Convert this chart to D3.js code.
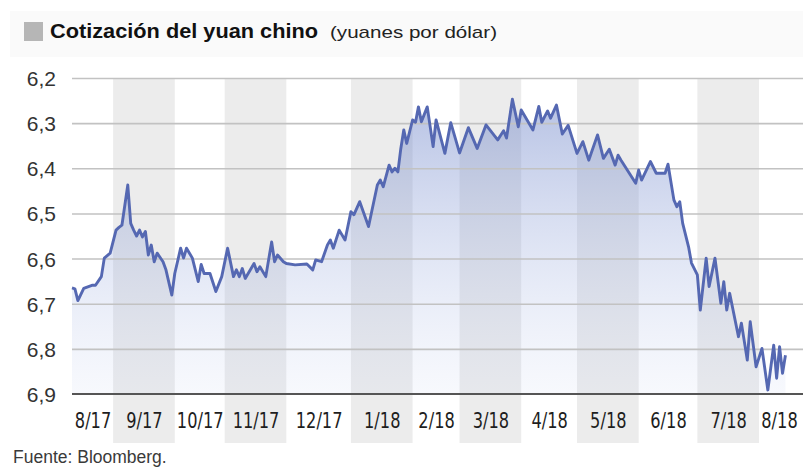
<!DOCTYPE html>
<html>
<head>
<meta charset="utf-8">
<script src="https://cdn.jsdelivr.net/npm/d3@7/dist/d3.min.js"></script>
<style>
  body { margin: 0; background: #fff; }
  svg { display: block; }
</style>
</head>
<body>
<svg id="chart" width="803" height="468"></svg>
<script>
// Month labels and the number of trading days each month spans on the axis
const months = ["8/17", "9/17", "10/17", "11/17", "12/17", "1/18", "2/18", "3/18", "4/18", "5/18", "6/18", "7/18", "8/18"];
const monthTradingDays = [14, 21, 17, 21, 22, 21, 16, 21, 19, 21, 20, 21, 16];

// Y axis ticks (yuan per dollar)
const yTicks = [6.2, 6.3, 6.4, 6.5, 6.6, 6.7, 6.8, 6.9];

// Yuan per dollar, by trading day counted from mid-August 2017
const day = [
  0, 1, 2, 4, 7, 8, 10, 11, 13,
  15, 16, 17, 19, 20, 21, 22, 23, 24, 25, 26, 27, 28, 29, 31, 32, 34,
  35, 37, 38, 39, 41, 43, 44, 45, 47, 49, 51,
  53, 55, 56, 57, 58, 59, 62, 63, 64, 66, 68, 69, 70, 72,
  73, 76, 80, 82, 83, 85, 87, 88, 89, 91, 93,
  95, 96, 98, 101, 104, 105, 106, 108, 109, 110, 111, 112, 113, 114,
  116, 117, 118, 119, 121, 123, 124, 127, 129,
  132, 135, 138, 141, 145, 147, 148, 150, 152,
  153, 157, 159, 160, 162, 163, 165, 167, 169,
  172, 174, 176, 179, 181, 183, 185, 186, 187, 192,
  193, 194, 197, 199, 202, 203, 205, 206, 207, 208, 210, 211,
  213, 214, 216, 217, 219, 221, 222, 223, 224, 227, 228, 230, 231, 233,
  235, 237, 239, 240, 241, 242, 243
];
const rate = [
  6.665, 6.667, 6.693, 6.666, 6.659, 6.659, 6.640, 6.599, 6.588,
  6.537, 6.531, 6.526, 6.437, 6.522, 6.537, 6.550, 6.537, 6.552, 6.540, 6.592, 6.570, 6.607, 6.588, 6.607, 6.625, 6.681,
  6.633, 6.577, 6.599, 6.577, 6.599, 6.651, 6.613, 6.633, 6.633, 6.673, 6.640,
  6.577, 6.640, 6.625, 6.640, 6.622, 6.644, 6.611, 6.629, 6.618, 6.640, 6.563, 6.607, 6.592, 6.607,
  6.611, 6.614, 6.612, 6.625, 6.603, 6.607, 6.570, 6.559, 6.577, 6.537, 6.559,
  6.496, 6.503, 6.474, 6.529, 6.437, 6.426, 6.441, 6.393, 6.408, 6.400, 6.408, 6.356, 6.315, 6.345,
  6.293, 6.298, 6.264, 6.297, 6.264, 6.352, 6.293, 6.367, 6.299,
  6.366, 6.310, 6.356, 6.304, 6.337, 6.317, 6.333, 6.247, 6.308,
  6.271, 6.315, 6.263, 6.298, 6.273, 6.289, 6.260, 6.324, 6.305,
  6.367, 6.341, 6.382, 6.326, 6.378, 6.358, 6.393, 6.371, 6.382, 6.433,
  6.404, 6.426, 6.385, 6.411, 6.411, 6.391, 6.470, 6.485, 6.474, 6.522, 6.574, 6.610,
  6.636, 6.714, 6.599, 6.662, 6.599, 6.699, 6.651, 6.714, 6.677, 6.773, 6.743, 6.825, 6.740, 6.840,
  6.799, 6.891, 6.792, 6.865, 6.795, 6.854, 6.814
];

const series = day.map((d, i) => ({ day: d, rate: rate[i] }));

const svg = d3.select("#chart");
const W = 803;
const plotLeft = 72, plotTop = 78, plotBottom = 394, bandBottom = 443;

// Cumulative month boundaries in trading days
const monthStart = [0];
monthTradingDays.forEach((n, i) => monthStart.push(monthStart[i] + n));
const totalDays = monthStart[monthStart.length - 1];

const x = d3.scaleLinear().domain([0, totalDays]).range([plotLeft, 806]);
const y = d3.scaleLinear().domain([6.2, 6.9]).range([plotTop, plotBottom]);

const locale = d3.formatLocale({ decimal: ",", thousands: ".", grouping: [3], currency: ["", "€"] });
const fmt = locale.format(".1f");

// Title band
svg.append("rect").attr("x", 10).attr("y", 11).attr("width", W - 10).attr("height", 46).attr("fill", "#fafafa");
svg.append("rect").attr("x", 24).attr("y", 22).attr("width", 19).attr("height", 19).attr("fill", "#b6b6b6");
svg.append("text")
  .attr("x", 50).attr("y", 38)
  .attr("font-family", "'Liberation Sans', Arial, sans-serif")
  .attr("font-weight", "bold").attr("font-size", 20)
  .attr("fill", "#111")
  .attr("textLength", 268).attr("lengthAdjust", "spacingAndGlyphs")
  .text("Cotización del yuan chino");
svg.append("text")
  .attr("x", 330).attr("y", 38)
  .attr("font-family", "'Liberation Sans', Arial, sans-serif")
  .attr("font-size", 17)
  .attr("fill", "#222")
  .attr("textLength", 167).attr("lengthAdjust", "spacingAndGlyphs")
  .text("(yuanes por dólar)");

// Alternate month shading
svg.append("g").selectAll("rect")
  .data(months.map((m, i) => ({ m, i })).filter(d => d.i % 2 === 1))
  .join("rect")
  .attr("x", d => x(monthStart[d.i]))
  .attr("width", d => x(monthStart[d.i + 1]) - x(monthStart[d.i]))
  .attr("y", plotTop)
  .attr("height", bandBottom - plotTop)
  .attr("fill", "#ececec");

// Gradient for the area under the line
const defs = svg.append("defs");
const grad = defs.append("linearGradient")
  .attr("id", "areaFill")
  .attr("gradientUnits", "userSpaceOnUse")
  .attr("x1", 0).attr("x2", 0)
  .attr("y1", y(6.25)).attr("y2", y(6.9));
grad.append("stop").attr("offset", 0).attr("stop-color", "rgb(95,120,195)").attr("stop-opacity", 0.45);
grad.append("stop").attr("offset", 1).attr("stop-color", "rgb(190,203,238)").attr("stop-opacity", 0.12);

const area = d3.area()
  .x(d => x(d.day))
  .y0(y(6.9))
  .y1(d => y(d.rate));

svg.append("path")
  .datum(series)
  .attr("d", area)
  .attr("fill", "url(#areaFill)");

// Horizontal gridlines
const grid = svg.append("g")
  .attr("transform", `translate(${plotLeft},0)`)
  .call(d3.axisRight(y).tickValues(yTicks.slice(0, -1)).tickSize(W - plotLeft).tickFormat(""));
grid.select(".domain").remove();
grid.selectAll(".tick line").attr("stroke", "#c2c2c2").attr("stroke-width", 1.6);

// Baseline
svg.append("line")
  .attr("x1", plotLeft).attr("x2", W)
  .attr("y1", y(6.9)).attr("y2", y(6.9))
  .attr("stroke", "#555").attr("stroke-width", 2);

// Y axis labels
const yAxis = svg.append("g")
  .attr("transform", "translate(56,0)")
  .call(d3.axisLeft(y).tickValues(yTicks).tickSize(0).tickPadding(0).tickFormat(fmt));
yAxis.select(".domain").remove();
yAxis.selectAll("text")
  .attr("font-family", "'Liberation Sans', Arial, sans-serif")
  .attr("font-size", 21)
  .attr("fill", "#333")
  .attr("dy", "0.36em");

// Month labels centred in the visible part of their bands
const centers = months.map((m, i) =>
  (x.invert(Math.max(plotLeft, x(monthStart[i]))) + x.invert(Math.min(W - 4, x(monthStart[i + 1])))) / 2);
const xAxis = svg.append("g")
  .attr("transform", `translate(0,${plotBottom})`)
  .call(d3.axisBottom(x).tickValues(centers).tickSize(0).tickPadding(0).tickFormat((d, i) => months[i]));
xAxis.select(".domain").remove();
// Condensed numerals: narrow face, squeezed horizontally around each tick
xAxis.selectAll("text")
  .attr("font-family", "'Liberation Sans Narrow', 'DejaVu Sans Condensed', sans-serif")
  .attr("font-size", 22)
  .attr("fill", "#1e1e1e")
  .attr("y", 34)
  .attr("dy", 0)
  .attr("transform", "scale(0.82,1)");

// Rate line
svg.append("path")
  .datum(series)
  .attr("d", d3.line().x(d => x(d.day)).y(d => y(d.rate)))
  .attr("fill", "none")
  .attr("stroke", "#5568b2")
  .attr("stroke-width", 2.9)
  .attr("stroke-linejoin", "round");

// Source
svg.append("text")
  .attr("x", 13).attr("y", 463)
  .attr("font-family", "'Liberation Sans', Arial, sans-serif")
  .attr("font-size", 17.5)
  .attr("fill", "#3a3a3a")
  .text("Fuente: Bloomberg.");
</script>
</body>
</html>
